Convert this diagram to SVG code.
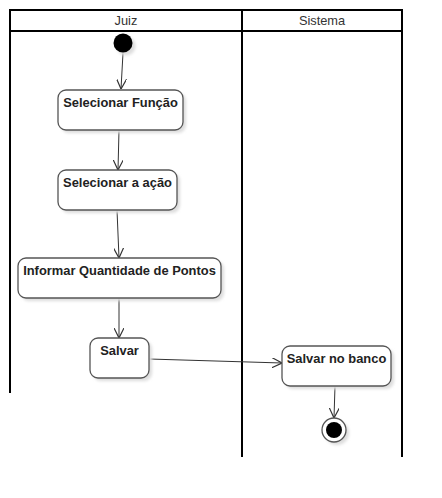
<svg xmlns="http://www.w3.org/2000/svg" width="442" height="498" viewBox="0 0 442 498">
<defs>
<marker id="arr" viewBox="0 0 10 10" refX="10" refY="5" markerWidth="10" markerHeight="10" markerUnits="userSpaceOnUse" orient="auto">
<path d="M0,0 L10,5 L0,10" fill="none" stroke="#333" stroke-width="1.2"/>
</marker>
<filter id="sh" x="-20%" y="-20%" width="140%" height="140%">
<feGaussianBlur stdDeviation="1.5"/>
</filter>
</defs>
<style>
.lane{stroke:#000;stroke-width:2;fill:none}
.hdr{font-family:"Liberation Sans",Arial,sans-serif;font-size:12.8px;fill:#333;text-anchor:middle}
.box{fill:#fff;stroke:#555;stroke-width:1.3}
.shadow{fill:#ddd;filter:url(#sh)}
.lbl{font-family:"Liberation Sans",Arial,sans-serif;font-size:12.9px;font-weight:bold;fill:#222;text-anchor:middle}
.edge{stroke:#333;stroke-width:1;fill:none;marker-end:url(#arr)}
</style>
<rect width="442" height="498" fill="#fff"/>
<g id="swimlanes">
<path class="lane" d="M10,393 V10 H402 V457 M10,31 H402 M242,10 V457"/>
<text class="hdr" x="126" y="25">Juiz</text>
<text class="hdr" x="322" y="25">Sistema</text>
</g>
<g id="connectors">
<path class="edge" d="M123,53 L121,89"/>
<path class="edge" d="M119,130 L118,170"/>
<path class="edge" d="M117,210 L119,258"/>
<path class="edge" d="M119,298 L119,338"/>
<path class="edge" d="M149,359 L282,363"/>
<path class="edge" d="M335,386 L334,418"/>
</g>
<g id="start">
<circle cx="126" cy="46" r="9.5" class="shadow"/>
<circle cx="123" cy="43" r="9.5" fill="#000"/>
</g>
<g id="n1">
<rect class="shadow" x="61" y="93" width="125" height="40" rx="8"/>
<rect class="box" x="58" y="90" width="125" height="40" rx="8"/>
<text class="lbl" x="120.5" y="107">Selecionar Função</text>
</g>
<g id="n2">
<rect class="shadow" x="61" y="173" width="119" height="40" rx="8"/>
<rect class="box" x="58" y="170" width="119" height="40" rx="8"/>
<text class="lbl" x="117.5" y="187">Selecionar a ação</text>
</g>
<g id="n3">
<rect class="shadow" x="21" y="261" width="203" height="40" rx="8"/>
<rect class="box" x="18" y="258" width="203" height="40" rx="8"/>
<text class="lbl" x="119.5" y="275">Informar Quantidade de Pontos</text>
</g>
<g id="n4">
<rect class="shadow" x="93" y="341" width="59" height="40" rx="8"/>
<rect class="box" x="90" y="338" width="59" height="40" rx="8"/>
<text class="lbl" x="119.5" y="355">Salvar</text>
</g>
<g id="n5">
<rect class="shadow" x="285" y="349" width="109" height="40" rx="8"/>
<rect class="box" x="282" y="346" width="109" height="40" rx="8"/>
<text class="lbl" x="336.5" y="363">Salvar no banco</text>
</g>
<g id="end">
<circle cx="337" cy="433" r="12" class="shadow"/>
<circle cx="334" cy="430" r="12" fill="#fff" stroke="#555" stroke-width="1.3"/>
<circle cx="334" cy="430" r="8" fill="#000"/>
</g>
</svg>
